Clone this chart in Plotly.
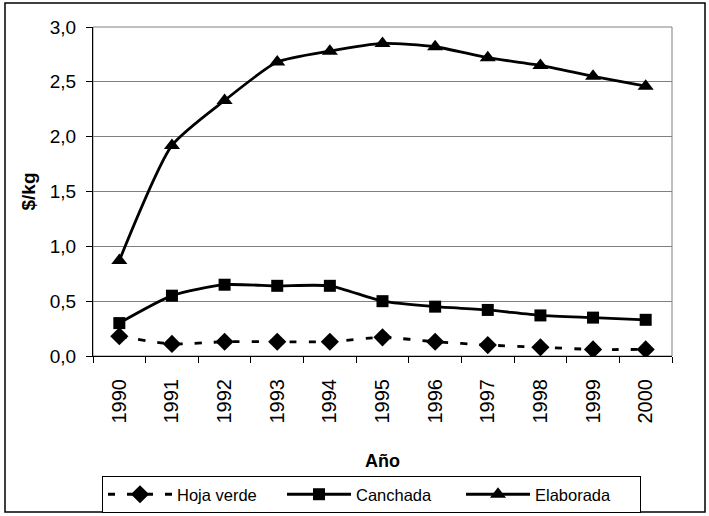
import plotly.graph_objects as go

years = [1990, 1991, 1992, 1993, 1994, 1995, 1996, 1997, 1998, 1999, 2000]
hoja_verde = [0.18, 0.11, 0.13, 0.13, 0.13, 0.17, 0.13, 0.10, 0.08, 0.06, 0.06]
canchada = [0.30, 0.55, 0.65, 0.64, 0.64, 0.50, 0.45, 0.42, 0.37, 0.35, 0.33]
elaborada = [0.87, 1.92, 2.33, 2.68, 2.78, 2.85, 2.82, 2.72, 2.65, 2.55, 2.46]
y_ticks = [0, 0.5, 1.0, 1.5, 2.0, 2.5, 3.0]

W, H = 709, 516
L, R, T, B = 93, 37, 27, 160
pw, ph = W - L - R, H - T - B

def px_x(x):
    return (x - L) / pw

def px_y(y):
    return (H - B - y) / ph

font = "Liberation Sans, Arial, sans-serif"

fig = go.Figure()
fig.add_trace(go.Scatter(x=years, y=hoja_verde, name="Hoja verde", mode="lines+markers",
                         line=dict(color="black", width=2.8, dash="7px,12px", shape="spline", smoothing=0.6),
                         marker=dict(symbol="diamond", size=14, color="black")))
fig.add_trace(go.Scatter(x=years, y=canchada, name="Canchada", mode="lines+markers",
                         line=dict(color="black", width=2.8, shape="spline", smoothing=0.6),
                         marker=dict(symbol="square", size=12, color="black")))
fig.add_trace(go.Scatter(x=years, y=elaborada, name="Elaborada", mode="lines+markers",
                         line=dict(color="black", width=2.8, shape="spline", smoothing=0.6),
                         marker=dict(symbol="triangle-up", size=14, color="black")))

fig.update_layout(
    width=W, height=H,
    margin=dict(l=L, r=R, t=T, b=B, autoexpand=False),
    paper_bgcolor="white", plot_bgcolor="white",
    separators=",.",
    font=dict(family=font, size=18, color="black"),
    showlegend=True,
    legend=dict(orientation="h", x=px_x(102), xanchor="left", y=px_y(476), yanchor="top",
                bordercolor="black", borderwidth=1, bgcolor="white",
                font=dict(size=16.5), itemwidth=64, traceorder="normal",
                entrywidth=100, entrywidthmode="pixels"),
    xaxis=dict(range=[1989.5, 2000.5], tickvals=years, ticktext=[str(y) for y in years],
               tickangle=-90, ticks="", showgrid=False, zeroline=False, automargin=False,
               tickfont=dict(size=20), ticklabelstandoff=14,
               showline=True, linecolor="black", linewidth=1,
               minor=dict(ticks="outside", tick0=1989.5, dtick=1, ticklen=6, tickcolor="black", showgrid=False),
               title=dict(text="<b>Año</b>", standoff=31, font=dict(size=18))),
    yaxis=dict(range=[0, 3.0], tickvals=y_ticks, tickformat=".1f", ticks="outside", ticklen=6,
               tickcolor="black", showgrid=True, gridcolor="#808080", gridwidth=1, zeroline=False,
               showline=True, linecolor="black", linewidth=1, automargin=False,
               tickfont=dict(size=19), ticklabelstandoff=6,
               title=dict(text="<b>$/kg</b>", standoff=9, font=dict(size=19))),
    shapes=[
        dict(type="rect", xref="paper", yref="paper", x0=0, x1=1, y0=0, y1=1,
             line=dict(color="#808080", width=1), layer="below"),
        dict(type="rect", xref="paper", yref="paper", x0=px_x(5), x1=px_x(705), y0=px_y(512), y1=px_y(3),
             line=dict(color="black", width=1.5), layer="below"),
    ],
)

fig.write_html("out.html", config={"displayModeBar": False},
               post_script="document.body.style.margin='0';document.body.style.overflow='hidden';")
